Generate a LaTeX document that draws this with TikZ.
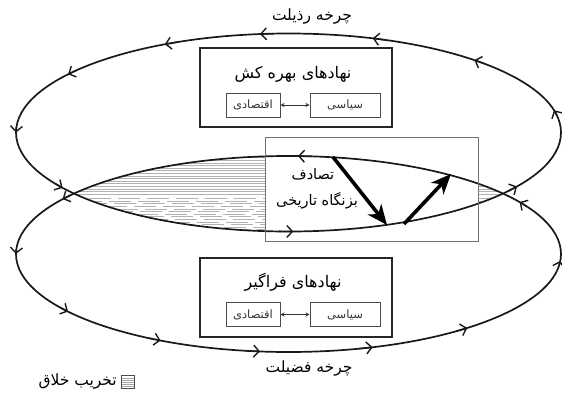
\documentclass[tikz,border=0pt]{standalone}
\usepackage{fontspec}
\newfontfamily\fa[Script=Arabic]{DejaVu Sans}
\TeXXeTstate=1
\usetikzlibrary{arrows.meta,calc}
\newcommand{\fat}[1]{{\fa\beginR #1\endR}}
\tikzset{
  cycle/.style={line width=1.7pt, draw=black!90},
  barb/.style={line width=1.4pt, draw=black!90, -{Straight Barb[length=5.5pt,width=12pt]}},
  outerbox/.style={draw=black!85, line width=1.9pt, minimum width=192pt, minimum height=79pt},
  innerbox/.style={draw=black!70, line width=1pt, minimum height=24pt, inner sep=0pt, text=black!80, font=\fontsize{11.5}{13}\selectfont},
  midbox/.style={draw=black!55, line width=1pt, minimum width=213pt, minimum height=104pt},
  title/.style={font=\fontsize{16}{18}\selectfont, inner sep=0pt},
  midlbl/.style={font=\fontsize{14.5}{16}\selectfont, inner sep=0pt},
  lbl/.style={font=\fontsize{15.5}{18}\selectfont, inner sep=0pt},
  bigarrow/.style={line width=3.6pt, draw=black, -{Stealth[length=20pt,width=17pt,inset=6pt]}},
  link/.style={line width=0.9pt, draw=black!80, {Stealth[length=4pt,width=4pt]}-{Stealth[length=4pt,width=4pt]}},
  hatch/.style={draw=black!30, line width=0.9pt},
}
\begin{document}
\begin{tikzpicture}[x=1pt,y=-1pt]
\useasboundingbox (0,0) rectangle (562,394);
% hatching of the lens
\begin{scope}
  \clip (288.5,132.5) ellipse [x radius=272.5, y radius=99];
  \clip (288.5,254) ellipse [x radius=272.5, y radius=98];
  \foreach \y in {150,152.6,...,196} {
    \draw[hatch] (60,\y) -- (265,\y);
    \draw[hatch] (478,\y) -- (520,\y);
  }
  \foreach \y/\p in {198.6/0,201.2/9,203.8/4,206.4/13,209/2,211.6/7,214.2/11,216.8/5,219.4/1,222/8,224.6/3,227.2/10,229.8/6} {
    \draw[hatch, dash pattern=on 22pt off 7pt, dash phase=\p pt] (60,\y) -- (265,\y);
    \draw[hatch] (478,\y) -- (520,\y);
  }
\end{scope}
% the two cycles
\draw[cycle] (288.5,132.5) ellipse [x radius=272.5, y radius=99];
\draw[cycle] (288.5,254) ellipse [x radius=272.5, y radius=98];
\foreach \t in {13,47,72,96,117,144,180,214,271,327}
  \draw[barb] ({288.5+272.5*cos(\t-3)},{132.5-99*sin(\t-3)}) -- ({288.5+272.5*cos(\t)},{132.5-99*sin(\t)});
\foreach \t in {32,88,146,180,216,242,264,288,311,356}
  \draw[barb] ({288.5+272.5*cos(\t-3)},{254-98*sin(\t-3)}) -- ({288.5+272.5*cos(\t)},{254-98*sin(\t)});
% cycle labels
\node[lbl] (vice) at (312,17) {\fat{چرخه رذیلت}};
\node[lbl] (virtue) at (309,368) {\fat{چرخه فضیلت}};
% top box
\node[outerbox] (topbox) at (296,87.5) {};
\node[title] (toptitle) at (293,74) {\fat{نهادهای بهره کش}};
\node[innerbox, minimum width=54pt] (topecon) at (253,105) {\fat{اقتصادی}};
\node[innerbox, minimum width=70pt] (toppol) at (345,105) {\fat{سیاسی}};
\draw[link] (topecon) -- (toppol);
% bottom box
\node[outerbox] (botbox) at (296,297.5) {};
\node[title] (bottitle) at (293,282) {\fat{نهادهای فراگیر}};
\node[innerbox, minimum width=54pt] (botecon) at (253,314.5) {\fat{اقتصادی}};
\node[innerbox, minimum width=70pt] (botpol) at (345,314.5) {\fat{سیاسی}};
\draw[link] (botecon) -- (botpol);
% middle box
\node[midbox] (midbox) at (371.5,189) {};
\node[midlbl] (chance) at (313,174) {\fat{تصادف}};
\node[midlbl] (juncture) at (317,201) {\fat{بزنگاه تاریخی}};
\coordinate (a1s) at (333,157);
\coordinate (a1e) at (387,225);
\coordinate (a2s) at (404,224);
\coordinate (a2e) at (451,174);
\draw[bigarrow] (a1s) -- (a1e);
\draw[bigarrow] (a2s) -- (a2e);
% legend
\node[draw=black!70, line width=0.8pt, minimum width=13pt, minimum height=13pt, inner sep=0pt,
  path picture={\foreach \k in {-4,-2,...,4} \draw[black!35, line width=0.9pt] ([yshift=\k pt]path picture bounding box.west) -- ([yshift=\k pt]path picture bounding box.east);}] (legbox) at (128,382) {};
\node[lbl, anchor=east] (legtext) at (117,381) {\fat{تخریب خلاق}};
\end{tikzpicture}
\end{document}
